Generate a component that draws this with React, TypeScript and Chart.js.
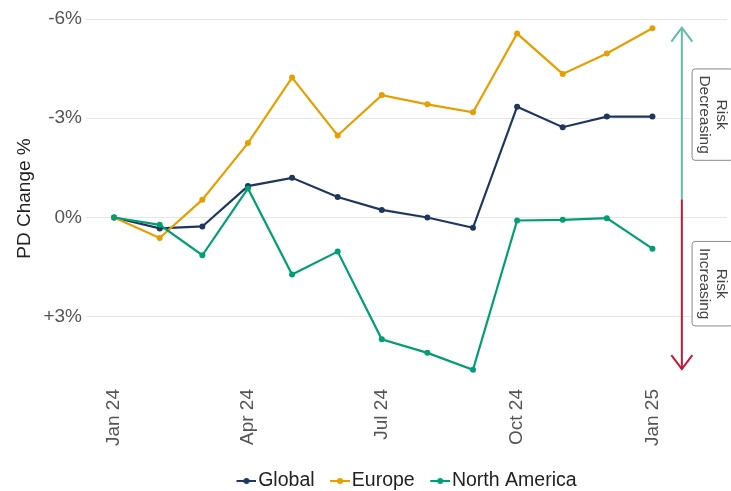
import React, { useEffect, useRef } from 'react';
import { Chart, registerables } from 'chart.js';

Chart.register(...registerables);

// Months since Jan 2024, expressed as day offsets so spacing follows the calendar
const MONTH_DAYS = [0, 31, 60, 91, 121, 152, 182, 213, 244, 274, 305, 335, 366];
const TICK_DAYS = [0, 91, 182, 274, 366];
const TICK_LABELS = ['Jan 24', 'Apr 24', 'Jul 24', 'Oct 24', 'Jan 25'];
const Y_TICKS = [-6, -3, 0, 3];

// PD change in percent (positive = PD increasing)
const GLOBAL = [0, 0.33, 0.27, -0.95, -1.2, -0.62, -0.23, 0, 0.31, -3.35, -2.73, -3.05, -3.05];
const EUROPE = [0, 0.62, -0.54, -2.25, -4.23, -2.48, -3.7, -3.42, -3.18, -5.56, -4.34, -4.96, -5.72];
const NORTH_AMERICA = [0, 0.22, 1.14, -0.88, 1.72, 1.03, 3.68, 4.09, 4.6, 0.09, 0.07, 0.02, 0.94];

const SERIES_NAMES = ['Global', 'Europe', 'North America'];
const SERIES_COLORS = ['#1f365f', '#e69f00', '#009e73'];

const FONT = "'Liberation Sans', Arial, Helvetica, sans-serif";

// Risk direction guide
const ARROW_DAY = 386;
const ARROW_SPLIT = -0.55;
const ARROW_TOP = -5.74;
const ARROW_BOTTOM = 4.58;
const TAG_DAY = 406.9;
const TAG_DECREASING_Y = -3.11;
const TAG_INCREASING_Y = 2.0;

function legendMarker(color: string): HTMLCanvasElement {
  const c = document.createElement('canvas');
  c.width = 28;
  c.height = 8;
  const g = c.getContext('2d')!;
  g.strokeStyle = color;
  g.lineWidth = 2;
  g.beginPath();
  g.moveTo(8, 4);
  g.lineTo(28, 4);
  g.stroke();
  g.fillStyle = color;
  g.beginPath();
  g.arc(18, 4, 3, 0, Math.PI * 2);
  g.fill();
  return c;
}

function drawTag(ctx: CanvasRenderingContext2D, cx: number, cy: number, lines: string[]) {
  ctx.save();
  ctx.translate(cx, cy);
  ctx.rotate(Math.PI / 2);
  ctx.font = `15.5px ${FONT}`;
  const maxW = Math.max(...lines.map((t) => ctx.measureText(t).width));
  const w = maxW + 13;
  const h = 41;
  const lh = 16.7;
  ctx.beginPath();
  ctx.roundRect(-w / 2, -h / 2, w, h, 3);
  ctx.fillStyle = '#ffffff';
  ctx.fill();
  ctx.strokeStyle = '#8a8a8a';
  ctx.lineWidth = 1;
  ctx.stroke();
  ctx.fillStyle = '#444444';
  ctx.textAlign = 'center';
  ctx.textBaseline = 'middle';
  lines.forEach((t, i) => ctx.fillText(t, 0, (i - (lines.length - 1) / 2) * lh));
  ctx.restore();
}

function drawArrow(ctx: CanvasRenderingContext2D, x: number, from: number, to: number, color: string) {
  const dir = to < from ? 1 : -1;
  ctx.save();
  ctx.strokeStyle = color;
  ctx.lineWidth = 2;
  ctx.beginPath();
  ctx.moveTo(x, from);
  ctx.lineTo(x, to);
  ctx.stroke();
  ctx.beginPath();
  ctx.moveTo(x - 10.5, to + dir * 14);
  ctx.lineTo(x, to);
  ctx.lineTo(x + 10.5, to + dir * 14);
  ctx.stroke();
  ctx.restore();
}

const riskGuide = {
  id: 'riskGuide',
  afterLayout(chart: any) {
    const lg = chart.legend;
    if (lg) {
      lg.top += 9.75;
      lg.bottom += 9.75;
    }
  },
  afterDatasetsDraw(chart: any) {
    const { ctx } = chart;
    const { x, y } = chart.scales;
    const ax = x.getPixelForValue(ARROW_DAY);
    const mid = y.getPixelForValue(ARROW_SPLIT);
    drawArrow(ctx, ax, mid, y.getPixelForValue(ARROW_TOP), '#62bcaa');
    drawArrow(ctx, ax, mid, y.getPixelForValue(ARROW_BOTTOM), '#c2183a');
    const tx = x.getPixelForValue(TAG_DAY);
    drawTag(ctx, tx, y.getPixelForValue(TAG_DECREASING_Y), ['Risk', 'Decreasing']);
    drawTag(ctx, tx, y.getPixelForValue(TAG_INCREASING_Y), ['Risk', 'Increasing']);
  },
};

export default function App() {
  const canvasRef = useRef<HTMLCanvasElement | null>(null);

  useEffect(() => {
    if (!canvasRef.current) return;
    Chart.defaults.font.family = FONT;
    const seriesValues = [GLOBAL, EUROPE, NORTH_AMERICA];
    const markers = SERIES_COLORS.map(legendMarker);

    const chart = new Chart(canvasRef.current, {
      type: 'line',
      data: {
        datasets: seriesValues.map((vals, i) => ({
          label: SERIES_NAMES[i],
          data: MONTH_DAYS.map((d, j) => ({ x: d, y: vals[j] })),
          borderColor: SERIES_COLORS[i],
          backgroundColor: SERIES_COLORS[i],
          borderWidth: 2.2,
          pointRadius: 3,
          pointBorderWidth: 0,
          tension: 0,
          order: 2 - i,
        })),
      },
      options: {
        animation: false,
        responsive: false,
        events: [],
        layout: { padding: { top: 19, left: 0, right: 0, bottom: 0 } },
        scales: {
          x: {
            type: 'linear',
            min: -19.1,
            max: 416.7,
            grid: { display: false, drawTicks: false },
            border: { display: false },
            afterBuildTicks: (scale: any) => {
              scale.ticks = TICK_DAYS.map((v) => ({ value: v }));
            },
            afterFit: (scale: any) => {
              scale.height = 68;
            },
            ticks: {
              autoSkip: false,
              minRotation: 90,
              maxRotation: 90,
              padding: 11,
              color: '#555555',
              font: { size: 19 },
              callback: (v: any) => TICK_LABELS[TICK_DAYS.indexOf(Number(v))] ?? '',
            },
          },
          y: {
            type: 'linear',
            reverse: true,
            min: -6,
            max: 4.85,
            grid: { color: '#e6e6e6', lineWidth: 1, drawTicks: false },
            border: { display: false },
            afterBuildTicks: (scale: any) => {
              scale.ticks = Y_TICKS.map((v) => ({ value: v }));
            },
            afterFit: (scale: any) => {
              scale.width = 86;
            },
            ticks: {
              padding: 4,
              color: '#555555',
              font: { size: 19 },
              callback: (v: any) => (v > 0 ? `+${v}%` : `${v}%`),
            },
            title: {
              display: true,
              text: 'PD Change %',
              color: '#222222',
              font: { size: 19 },
              padding: { top: 13.6, bottom: 0 },
            },
          },
        },
        plugins: {
          tooltip: { enabled: false },
          legend: {
            position: 'bottom',
            fullSize: false,
            labels: {
              usePointStyle: true,
              pointStyleWidth: 12,
              padding: 15.5,
              color: '#222222',
              font: { size: 19.5 },
              sort: (a: any, b: any) => a.datasetIndex - b.datasetIndex,
              generateLabels: (ch: any) => {
                const items = Chart.defaults.plugins.legend.labels.generateLabels(ch);
                return items.map((it: any, i: number) => ({
                  ...it,
                  pointStyle: markers[it.datasetIndex ?? i],
                  fontColor: '#222222',
                }));
              },
            },
          },
        },
      },
      plugins: [riskGuide],
    } as any);

    return () => chart.destroy();
  }, []);

  return (
    <div style={{ position: 'absolute', left: 0, top: 0, width: 731, height: 491, background: '#ffffff' }}>
      <canvas ref={canvasRef} width={731} height={491} style={{ display: 'block' }} />
    </div>
  );
}
